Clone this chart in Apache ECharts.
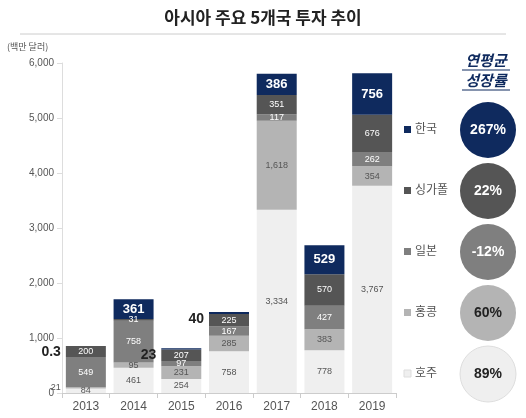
<!DOCTYPE html>
<html><head><meta charset="utf-8">
<script src="https://cdn.jsdelivr.net/npm/echarts@6/dist/echarts.min.js"></script>
<style>body{margin:0;background:#fff}#c{width:526px;height:418px}</style>
</head><body><div id="c"></div>
<script>
var years = ['2013', '2014', '2015', '2016', '2017', '2018', '2019'];
var australia = [84, 461, 254, 758, 3334, 778, 3767];   // 호주
var hongkong = [21, 95, 231, 285, 1618, 383, 354];      // 홍콩
var japan = [549, 758, 97, 167, 117, 427, 262];         // 일본
var singapore = [200, 31, 207, 225, 351, 570, 676];     // 싱가폴
var korea = [0.3, 361, 23, 40, 386, 529, 756];          // 한국
var growth = ['267%', '22%', '-12%', '60%', '89%'];     // 한국, 싱가폴, 일본, 홍콩, 호주

var font = '"Noto Sans CJK KR", sans-serif';
var myChart = echarts.init(document.getElementById('c'));

function fmt(p) { return Number(p.value).toLocaleString('en-US'); }

function mk(name, data, color, txt, bold) {
    return {
        name: name, type: 'bar', stack: 'a', barWidth: 40,
        itemStyle: {color: color},
        label: {show: true, position: 'inside', color: txt, fontSize: bold ? 13 : 9,
            fontWeight: bold ? 'bold' : 'normal', fontFamily: 'Arial', formatter: fmt},
        data: data
    };
}
var s1 = mk('호주', australia, '#efefef', '#555', false);
var s2 = mk('홍콩', hongkong.map(function (v, i) {
    return i == 0 ? {value: v, label: {position: 'left', color: '#555'}} : v;
}), '#b4b4b4', '#555', false);
var s3 = mk('일본', japan, '#7f7f7f', '#fff', false);
var s4 = mk('싱가폴', singapore, '#555555', '#fff', false);
var s5 = mk('한국', korea.map(function (v) {
    return v < 100 ? {value: v, label: {position: 'left', color: '#222', fontSize: 14, offset: [0, 6]}} : v;
}), '#0f2a5e', '#fff', true);

// 범례 + 성장률 원
var legendNames = ['한국', '싱가폴', '일본', '홍콩', '호주'];
var legendColors = ['#0f2a5e', '#555555', '#7f7f7f', '#b4b4b4', '#efefef'];
var circleText = ['#fff', '#fff', '#fff', '#222', '#222'];
var graphics = [
    {type: 'line', shape: {x1: 20, y1: 34, x2: 506, y2: 34}, style: {stroke: '#ccc', lineWidth: 1}},
    {type: 'text', x: 486, y: 50, style: {text: '연평균\n성장률', font: 'italic bold 15px ' + font,
        fill: '#0f2a5e', lineHeight: 20, align: 'center'}},
    {type: 'line', shape: {x1: 462, y1: 70, x2: 510, y2: 70}, style: {stroke: '#0f2a5e', lineWidth: 1}},
    {type: 'line', shape: {x1: 462, y1: 90, x2: 510, y2: 90}, style: {stroke: '#0f2a5e', lineWidth: 1}}
];
for (var i = 0; i < 5; i++) {
    var y = 130 + i * 61;
    graphics.push({type: 'rect', shape: {x: 404, y: y - 4, width: 7, height: 7}, style: {fill: legendColors[i], stroke: i == 4 ? '#ddd' : null}});
    graphics.push({type: 'text', x: 415, y: y - 8, style: {text: legendNames[i], font: '12px ' + font, fill: '#555'}});
    graphics.push({type: 'circle', shape: {cx: 488, cy: y, r: 28}, style: {fill: legendColors[i], stroke: i == 4 ? '#ddd' : null}});
    graphics.push({type: 'text', x: 488, y: y, style: {text: growth[i], font: 'bold 14px Arial', fill: circleText[i], align: 'center', verticalAlign: 'middle'}});
}

var option = {
    animation: false,
    title: {text: '아시아 주요 5개국 투자 추이', left: 'center', top: 4,
        textStyle: {fontFamily: font, fontSize: 17, fontWeight: 'bold', color: '#222'}},
    grid: {left: 62, right: 130, top: 63, bottom: 25},
    graphic: graphics,
    xAxis: {type: 'category', data: years,
        axisLine: {lineStyle: {color: '#ccc'}}, axisTick: {show: true, lineStyle: {color: '#ccc'}},
        axisLabel: {color: '#555', fontSize: 12, fontFamily: 'Arial'}},
    yAxis: {type: 'value', min: 0, max: 6000, interval: 1000, name: '(백만 달러)',
        nameTextStyle: {color: '#555', fontSize: 9, fontFamily: font, align: 'left', padding: [0, 0, 0, -55]},
        nameGap: 12,
        axisLine: {show: true, lineStyle: {color: '#ddd'}}, axisTick: {show: true, lineStyle: {color: '#ddd'}},
        splitLine: {show: false},
        axisLabel: {color: '#555', fontSize: 10, fontFamily: 'Arial',
            formatter: function (v) { return v.toLocaleString('en-US'); }}},
    series: [s1, s2, s3, s4, s5]
};
myChart.setOption(option);
</script></body></html>
